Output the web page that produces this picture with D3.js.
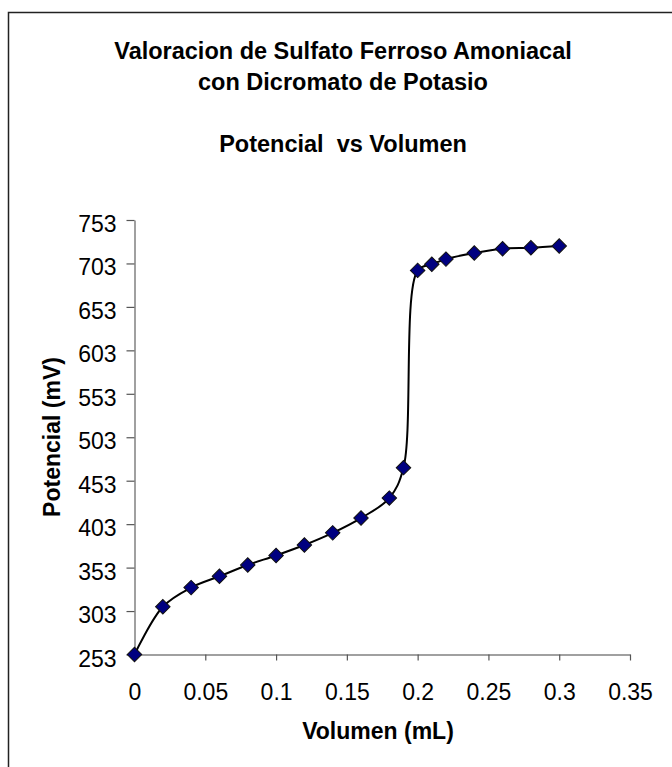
<!DOCTYPE html>
<html>
<head>
<meta charset="utf-8">
<script src="https://cdn.jsdelivr.net/npm/d3@7"></script>
<style>
  body { margin: 0; background: #fff; }
  text { font-family: "Liberation Sans", Arial, sans-serif; fill: #000; }
</style>
</head>
<body>
<div id="chart"></div>
<script>
// valores
var volumen = [0, 0.02, 0.04, 0.06, 0.08, 0.10, 0.12, 0.14, 0.16, 0.18, 0.19, 0.20, 0.21, 0.22, 0.24, 0.26, 0.28, 0.30];
var potencial = [253, 308, 330, 343, 356, 367, 379, 393, 410, 433, 468, 695, 702, 708, 715, 720, 721, 723];
var xTicks = [0, 0.05, 0.1, 0.15, 0.2, 0.25, 0.3, 0.35];
var yTicks = [253, 303, 353, 403, 453, 503, 553, 603, 653, 703, 753];
var titulos = ["Valoracion de Sulfato Ferroso Amoniacal", "con Dicromato de Potasio", "Potencial  vs Volumen"];

var Grafico = {
    init: function() {
        this.w = 672;
        this.h = 767;
        this.data = volumen.map(function(v, i) { return {x: v, y: potencial[i]}; });
        this.svg = d3.select('#chart').append('svg')
            .attr('width', this.w)
            .attr('height', this.h);
        this.x = d3.scaleLinear().domain([0, 0.35]).range([134.5, 630]);
        this.y = d3.scaleLinear().domain([253, 753]).range([654.5, 220]);
        this.drawFrame();
        this.drawTitles();
        this.drawAxes();
        this.drawSeries();
        return this;
    },
    drawFrame: function() {
        this.svg.append('rect')
            .attr('x', 8.5).attr('y', 12.5)
            .attr('width', 700).attr('height', 800)
            .attr('fill', '#fff')
            .attr('stroke', '#222')
            .attr('stroke-width', 1.5);
    },
    drawTitles: function() {
        var base = [59, 90, 152];
        this.svg.selectAll('text.titulo')
            .data(titulos)
            .enter()
            .append('text')
            .attr('class', 'titulo')
            .attr('x', 343)
            .attr('y', function(d, i) { return base[i]; })
            .attr('text-anchor', 'middle')
            .attr('font-size', '23.5px')
            .attr('font-weight', 'bold')
            .style('white-space', 'pre')
            .text(function(d) { return d; });

        this.svg.append('text')
            .attr('x', 378).attr('y', 739)
            .attr('text-anchor', 'middle')
            .attr('font-size', '23px')
            .attr('font-weight', 'bold')
            .text('Volumen (mL)');

        this.svg.append('text')
            .attr('transform', 'translate(60,437) rotate(-90)')
            .attr('text-anchor', 'middle')
            .attr('font-size', '23px')
            .attr('font-weight', 'bold')
            .text('Potencial (mV)');
    },
    drawAxes: function() {
        var gx = this.svg.append('g')
            .attr('transform', 'translate(0,654.5)')
            .call(d3.axisBottom(this.x).tickValues(xTicks).tickSize(6).tickSizeOuter(0)
                .tickFormat(function(d) { return d3.format('')(+d.toFixed(2)); }));
        gx.selectAll('text').attr('y', 45).attr('dy', 0).attr('font-size', '23px');

        var gy = this.svg.append('g')
            .attr('transform', 'translate(134.5,0)')
            .call(d3.axisLeft(this.y).tickValues(yTicks).tickSize(8).tickSizeOuter(0));
        gy.selectAll('text').attr('x', -18).attr('dy', '0.5em').attr('font-size', '23px');

        this.svg.selectAll('.domain').attr('stroke', '#808080').attr('stroke-width', 1.5);
        this.svg.selectAll('.tick line').attr('stroke', '#555').attr('stroke-width', 1.2);
        this.svg.selectAll('.tick text').attr('font-family', '"Liberation Sans", Arial, sans-serif');
    },
    drawSeries: function() {
        var that = this;
        var linea = d3.line()
            .x(function(d) { return that.x(d.x); })
            .y(function(d) { return that.y(d.y); })
            .curve(d3.curveCatmullRom.alpha(0.5));

        this.svg.append('path')
            .datum(this.data)
            .attr('d', linea)
            .attr('fill', 'none')
            .attr('stroke', '#000')
            .attr('stroke-width', 2);

        var rombo = d3.symbol().type(d3.symbolSquare).size(105);
        this.svg.selectAll('path.punto')
            .data(this.data)
            .enter()
            .append('path')
            .attr('class', 'punto')
            .attr('d', rombo)
            .attr('transform', function(d) {
                return 'translate(' + that.x(d.x) + ',' + that.y(d.y) + ') rotate(45)';
            })
            .attr('fill', '#000080')
            .attr('stroke', '#111')
            .attr('stroke-width', 1);
    }
};

Grafico.init();
</script>
</body>
</html>
